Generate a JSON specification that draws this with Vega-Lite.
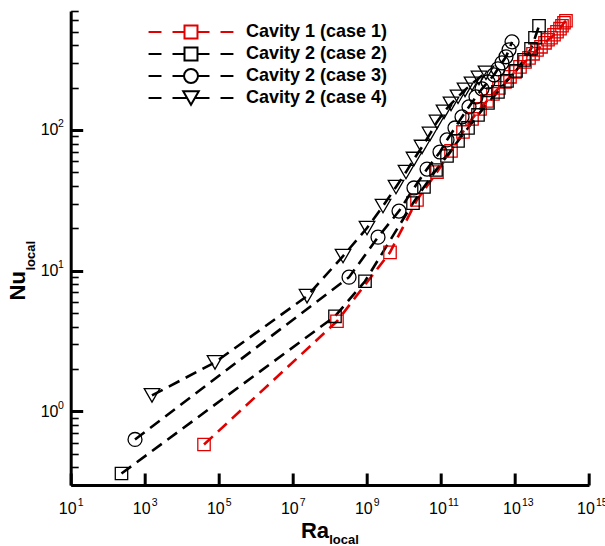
{
  "$schema": "https://vega.github.io/schema/vega-lite/v6.json",
  "width": 518.3,
  "height": 474,
  "autosize": {"type": "none"},
  "padding": {"left": 70.7, "top": 11, "right": 16.7, "bottom": 61},
  "config": {
    "view": {"stroke": null},
    "font": "Liberation Sans",
    "axis": {"grid": false, "labelFlush": false, "labelOverlap": false, "labelBound": false, "labelColor": "black", "titleColor": "black", "labelFont": "Liberation Sans", "titleFont": "Liberation Sans", "tickColor": "black", "domainColor": "black"}
  },
  "datasets": {
    "nu": [
      {"series": "Cavity 1 (case 1)", "Ra": 3.99e4, "Nu": 0.582},
      {"series": "Cavity 1 (case 1)", "Ra": 1.56e8, "Nu": 4.37},
      {"series": "Cavity 1 (case 1)", "Ra": 4.22e9, "Nu": 13.5},
      {"series": "Cavity 1 (case 1)", "Ra": 2.26e10, "Nu": 31.8},
      {"series": "Cavity 1 (case 1)", "Ra": 7.85e10, "Nu": 50.2},
      {"series": "Cavity 1 (case 1)", "Ra": 1.875e11, "Nu": 70.9},
      {"series": "Cavity 1 (case 1)", "Ra": 3.95e11, "Nu": 96.8},
      {"series": "Cavity 1 (case 1)", "Ra": 6.92e11, "Nu": 119.8},
      {"series": "Cavity 1 (case 1)", "Ra": 1.14e12, "Nu": 141},
      {"series": "Cavity 1 (case 1)", "Ra": 1.76e12, "Nu": 160.7},
      {"series": "Cavity 1 (case 1)", "Ra": 2.55e12, "Nu": 180.3},
      {"series": "Cavity 1 (case 1)", "Ra": 3.71e12, "Nu": 199},
      {"series": "Cavity 1 (case 1)", "Ra": 5.38e12, "Nu": 219.6},
      {"series": "Cavity 1 (case 1)", "Ra": 7.36e12, "Nu": 238.5},
      {"series": "Cavity 1 (case 1)", "Ra": 1.005e13, "Nu": 258.6},
      {"series": "Cavity 1 (case 1)", "Ra": 1.37e13, "Nu": 280.7},
      {"series": "Cavity 1 (case 1)", "Ra": 1.87e13, "Nu": 304.7},
      {"series": "Cavity 1 (case 1)", "Ra": 2.40e13, "Nu": 325.2},
      {"series": "Cavity 1 (case 1)", "Ra": 3.08e13, "Nu": 347.4},
      {"series": "Cavity 1 (case 1)", "Ra": 3.94e13, "Nu": 370.8},
      {"series": "Cavity 1 (case 1)", "Ra": 5.06e13, "Nu": 389.8},
      {"series": "Cavity 1 (case 1)", "Ra": 6.49e13, "Nu": 416},
      {"series": "Cavity 1 (case 1)", "Ra": 7.82e13, "Nu": 437.5},
      {"series": "Cavity 1 (case 1)", "Ra": 9.42e13, "Nu": 452},
      {"series": "Cavity 1 (case 1)", "Ra": 1.135e14, "Nu": 474.6},
      {"series": "Cavity 1 (case 1)", "Ra": 1.368e14, "Nu": 498.7},
      {"series": "Cavity 1 (case 1)", "Ra": 1.648e14, "Nu": 524},
      {"series": "Cavity 1 (case 1)", "Ra": 1.866e14, "Nu": 549.9},
      {"series": "Cavity 1 (case 1)", "Ra": 2.11e14, "Nu": 577.5},
      {"series": "Cavity 1 (case 1)", "Ra": 2.39e14, "Nu": 596.8},
      {"series": "Cavity 2 (case 2)", "Ra": 235.5, "Nu": 0.362},
      {"series": "Cavity 2 (case 2)", "Ra": 1.377e8, "Nu": 4.74},
      {"series": "Cavity 2 (case 2)", "Ra": 8.91e8, "Nu": 8.41},
      {"series": "Cavity 2 (case 2)", "Ra": 1.762e10, "Nu": 30.2},
      {"series": "Cavity 2 (case 2)", "Ra": 3.49e10, "Nu": 39.3},
      {"series": "Cavity 2 (case 2)", "Ra": 7.38e10, "Nu": 51.9},
      {"series": "Cavity 2 (case 2)", "Ra": 1.462e11, "Nu": 65.3},
      {"series": "Cavity 2 (case 2)", "Ra": 2.90e11, "Nu": 83.5},
      {"series": "Cavity 2 (case 2)", "Ra": 5.40e11, "Nu": 103.3},
      {"series": "Cavity 2 (case 2)", "Ra": 1.005e12, "Nu": 127.8},
      {"series": "Cavity 2 (case 2)", "Ra": 1.87e12, "Nu": 155.7},
      {"series": "Cavity 2 (case 2)", "Ra": 3.48e12, "Nu": 186.3},
      {"series": "Cavity 2 (case 2)", "Ra": 6.10e12, "Nu": 223.1},
      {"series": "Cavity 2 (case 2)", "Ra": 1.069e13, "Nu": 262.8},
      {"series": "Cavity 2 (case 2)", "Ra": 1.758e13, "Nu": 314.8},
      {"series": "Cavity 2 (case 2)", "Ra": 2.72e13, "Nu": 377.2},
      {"series": "Cavity 2 (case 2)", "Ra": 3.48e13, "Nu": 451.9},
      {"series": "Cavity 2 (case 2)", "Ra": 4.47e13, "Nu": 549.9},
      {"series": "Cavity 2 (case 3)", "Ra": 546, "Nu": 0.632},
      {"series": "Cavity 2 (case 3)", "Ra": 3.30e8, "Nu": 8.99},
      {"series": "Cavity 2 (case 3)", "Ra": 2.00e9, "Nu": 17.3},
      {"series": "Cavity 2 (case 3)", "Ra": 7.38e9, "Nu": 26.5},
      {"series": "Cavity 2 (case 3)", "Ra": 1.875e10, "Nu": 38.7},
      {"series": "Cavity 2 (case 3)", "Ra": 4.22e10, "Nu": 52.7},
      {"series": "Cavity 2 (case 3)", "Ra": 9.46e10, "Nu": 69.7},
      {"series": "Cavity 2 (case 3)", "Ra": 1.462e11, "Nu": 84.9},
      {"series": "Cavity 2 (case 3)", "Ra": 2.40e11, "Nu": 103.3},
      {"series": "Cavity 2 (case 3)", "Ra": 3.72e11, "Nu": 123.8},
      {"series": "Cavity 2 (case 3)", "Ra": 5.74e11, "Nu": 145.9},
      {"series": "Cavity 2 (case 3)", "Ra": 8.87e11, "Nu": 171.8},
      {"series": "Cavity 2 (case 3)", "Ra": 1.288e12, "Nu": 195.9},
      {"series": "Cavity 2 (case 3)", "Ra": 1.87e12, "Nu": 219.6},
      {"series": "Cavity 2 (case 3)", "Ra": 2.72e12, "Nu": 246.2},
      {"series": "Cavity 2 (case 3)", "Ra": 3.48e12, "Nu": 271.8},
      {"series": "Cavity 2 (case 3)", "Ra": 4.47e12, "Nu": 299.8},
      {"series": "Cavity 2 (case 3)", "Ra": 5.73e12, "Nu": 331.1},
      {"series": "Cavity 2 (case 3)", "Ra": 6.92e12, "Nu": 370.8},
      {"series": "Cavity 2 (case 3)", "Ra": 8.34e12, "Nu": 422.6},
      {"series": "Cavity 2 (case 4)", "Ra": 1570, "Nu": 1.30},
      {"series": "Cavity 2 (case 4)", "Ra": 7.91e4, "Nu": 2.23},
      {"series": "Cavity 2 (case 4)", "Ra": 2.42e7, "Nu": 6.59},
      {"series": "Cavity 2 (case 4)", "Ra": 2.27e8, "Nu": 12.7},
      {"series": "Cavity 2 (case 4)", "Ra": 1.009e9, "Nu": 20.1},
      {"series": "Cavity 2 (case 4)", "Ra": 2.73e9, "Nu": 28.8},
      {"series": "Cavity 2 (case 4)", "Ra": 6.12e9, "Nu": 39.3},
      {"series": "Cavity 2 (case 4)", "Ra": 1.140e10, "Nu": 50.2},
      {"series": "Cavity 2 (case 4)", "Ra": 1.875e10, "Nu": 62.2},
      {"series": "Cavity 2 (case 4)", "Ra": 3.09e10, "Nu": 75.7},
      {"series": "Cavity 2 (case 4)", "Ra": 5.08e10, "Nu": 93.7},
      {"series": "Cavity 2 (case 4)", "Ra": 7.85e10, "Nu": 114.0},
      {"series": "Cavity 2 (case 4)", "Ra": 1.213e11, "Nu": 134.4},
      {"series": "Cavity 2 (case 4)", "Ra": 1.875e11, "Nu": 153.2},
      {"series": "Cavity 2 (case 4)", "Ra": 2.90e11, "Nu": 171.8},
      {"series": "Cavity 2 (case 4)", "Ra": 4.48e11, "Nu": 192.6},
      {"series": "Cavity 2 (case 4)", "Ra": 6.92e11, "Nu": 212.5},
      {"series": "Cavity 2 (case 4)", "Ra": 1.069e12, "Nu": 234.2},
      {"series": "Cavity 2 (case 4)", "Ra": 1.652e12, "Nu": 254.5}
    ]
  },
  "layer": [
    {
      "data": {"name": "nu"},
      "mark": {"type": "line", "strokeDash": [12, 7], "strokeWidth": 2.6, "clip": true},
      "encoding": {
        "x": {"field": "Ra", "type": "quantitative", "scale": {"type": "log", "domain": [10, 1e15], "nice": false},
          "axis": {"orient": "bottom", "values": [10, 1000, 1e5, 1e7, 1e9, 1e11, 1e13, 1e15], "labels": false, "ticks": true, "tickSize": -12, "tickWidth": 3, "domain": true, "domainWidth": 3,
            "title": "Ra", "titleFontSize": 22, "titleFontWeight": "bold", "titleX": 243.8, "titleY": 53, "titleAlign": "center", "titleBaseline": "alphabetic"}},
        "y": {"field": "Nu", "type": "quantitative", "scale": {"type": "log", "domain": [0.3, 700], "nice": false},
          "axis": {"orient": "left", "values": [1, 10, 100], "labels": false, "ticks": true, "tickSize": -12, "tickWidth": 3, "domain": true, "domainWidth": 3,
            "title": "Nu", "titleFontSize": 22, "titleFontWeight": "bold", "titleAngle": 270, "titleX": -45.7, "titleY": 289, "titleAlign": "left", "titleBaseline": "alphabetic"}},
        "color": {"field": "series", "type": "nominal", "legend": null,
          "scale": {"domain": ["Cavity 1 (case 1)", "Cavity 2 (case 2)", "Cavity 2 (case 3)", "Cavity 2 (case 4)"], "range": ["#e00000", "black", "black", "black"]}}
      }
    },
    {
      "data": {"name": "nu"},
      "mark": {"type": "point", "filled": false, "size": 240, "strokeWidth": 1.3, "opacity": 1, "clip": true},
      "encoding": {
        "x": {"field": "Ra", "type": "quantitative", "scale": {"type": "log", "domain": [10, 1e15], "nice": false},
          "axis": {"orient": "bottom", "values": [10, 1000, 1e5, 1e7, 1e9, 1e11, 1e13, 1e15], "ticks": false, "domain": false, "labelExpr": "'10'", "labelFontSize": 16, "labelOffset": -3.5, "labelPadding": 16, "labelBaseline": "top",
            "title": "local", "titleFontSize": 13, "titleFontWeight": "bold", "titleX": 272.8, "titleY": 59, "titleAlign": "center", "titleBaseline": "alphabetic"}},
        "y": {"field": "Nu", "type": "quantitative", "scale": {"type": "log", "domain": [0.3, 700], "nice": false},
          "axis": {"orient": "left", "values": [1, 10, 100], "ticks": false, "domain": false, "labelExpr": "'10'", "labelFontSize": 16, "labelPadding": 12.7, "labelBaseline": "middle",
            "title": "local", "titleFontSize": 13, "titleFontWeight": "bold", "titleAngle": 270, "titleX": -35.7, "titleY": 259, "titleAlign": "left", "titleBaseline": "alphabetic"}},
        "shape": {"field": "series", "type": "nominal", "legend": null,
          "scale": {"domain": ["Cavity 1 (case 1)", "Cavity 2 (case 2)", "Cavity 2 (case 3)", "Cavity 2 (case 4)"],
            "range": ["M-0.8,-0.8H0.8V0.8H-0.8Z", "M-0.8,-0.8H0.8V0.8H-0.8Z", "M0.9,0A0.9,0.9,0,1,1,-0.9,0A0.9,0.9,0,1,1,0.9,0Z", "M-1,-0.866L1,-0.866L0,0.866Z"]}},
        "color": {"field": "series", "type": "nominal", "legend": null,
          "scale": {"domain": ["Cavity 1 (case 1)", "Cavity 2 (case 2)", "Cavity 2 (case 3)", "Cavity 2 (case 4)"], "range": ["#e00000", "black", "black", "black"]}}
      }
    },
    {
      "data": {"values": []},
      "mark": {"type": "point", "filled": false, "size": 147, "strokeWidth": 2, "opacity": 1},
      "encoding": {
        "x": {"field": "Ra", "type": "quantitative", "scale": {"type": "log", "domain": [10, 1e15], "nice": false},
          "axis": {"orient": "bottom", "values": [10, 1000, 1e5, 1e7, 1e9, 1e11, 1e13, 1e15], "ticks": false, "domain": false, "labelExpr": "'' + round(log(datum.value)/LN10)", "labelFontSize": 10.5, "labelAlign": "left", "labelOffset": 6.5, "labelPadding": 12.5, "labelBaseline": "top", "title": null}},
        "y": {"field": "Nu", "type": "quantitative", "scale": {"type": "log", "domain": [0.3, 700], "nice": false},
          "axis": {"orient": "left", "values": [1, 10, 100], "ticks": false, "domain": false, "labelExpr": "'' + round(log(datum.value)/LN10)", "labelFontSize": 10.5, "labelPadding": 7.4, "labelOffset": -6, "labelBaseline": "middle", "title": null}},
        "shape": {"field": "series", "type": "nominal",
          "scale": {"domain": ["Cavity 1 (case 1)", "Cavity 2 (case 2)", "Cavity 2 (case 3)", "Cavity 2 (case 4)"],
            "range": [
              "M-7,0H-4.87M-3.05,0H-1.07M1.07,0H3.05M4.87,0H7M-1.07,-1.07H1.07V1.07H-1.07Z",
              "M-7,0H-4.87M-3.05,0H-1.07M1.07,0H3.05M4.87,0H7M-1.07,-1.07H1.07V1.07H-1.07Z",
              "M-7,0H-4.87M-3.05,0H-1.15M1.15,0H3.05M4.87,0H7M1.15,0A1.15,1.15,0,1,1,-1.15,0A1.15,1.15,0,1,1,1.15,0Z",
              "M-7,0H-4.87M-3.05,0H-0.64M0.64,0H3.05M4.87,0H7M-1.28,-1.1L1.28,-1.1L0,1.1Z"
            ]},
          "legend": {"title": null, "orient": "none", "legendX": 111.3, "legendY": 12, "padding": 0, "labelFont": "Liberation Sans", "labelFontSize": 18, "labelFontWeight": "bold", "labelColor": "black", "labelOffset": 46, "rowPadding": 0, "symbolSize": 147, "symbolStrokeWidth": 2}},
        "color": {"field": "series", "type": "nominal",
          "scale": {"domain": ["Cavity 1 (case 1)", "Cavity 2 (case 2)", "Cavity 2 (case 3)", "Cavity 2 (case 4)"], "range": ["#e00000", "black", "black", "black"]},
          "legend": {"title": null, "orient": "none", "legendX": 111.3, "legendY": 12, "padding": 0, "labelFont": "Liberation Sans", "labelFontSize": 18, "labelFontWeight": "bold", "labelColor": "black", "labelOffset": 46, "rowPadding": 0, "symbolSize": 147, "symbolStrokeWidth": 2}}
      }
    },
    {
      "data": {"values": []},
      "mark": {"type": "point", "opacity": 0},
      "encoding": {
        "x": {"field": "Ra", "type": "quantitative", "scale": {"type": "log", "domain": [10, 1e15], "nice": false}, "axis": null},
        "y": {"field": "Nu", "type": "quantitative", "scale": {"type": "log", "domain": [0.3, 700], "nice": false},
          "axis": {"orient": "left", "values": [0.3, 0.4, 0.5, 0.6, 0.7, 0.8, 0.9, 2, 3, 4, 5, 6, 7, 8, 9, 20, 30, 40, 50, 60, 70, 80, 90, 200, 300, 400, 500, 600, 700], "labels": false, "domain": false, "ticks": true, "tickSize": -7.5, "tickWidth": 1.6, "title": null}}
      }
    }
  ],
  "resolve": {"axis": {"x": "independent", "y": "independent"}, "scale": {"color": "independent", "shape": "independent"}}
}
